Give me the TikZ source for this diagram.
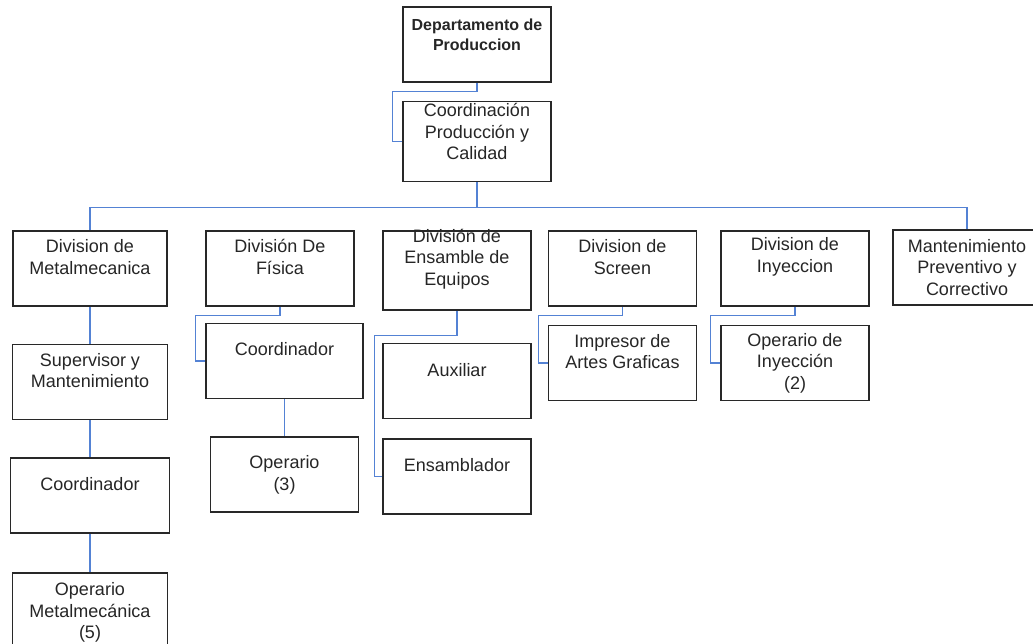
\documentclass[tikz,border=0pt]{standalone}
\usepackage{fontspec}
\setmainfont{Liberation Sans}
\usepackage{tikz}
\usetikzlibrary{positioning}

\definecolor{linkblue}{RGB}{84,130,212}
\definecolor{boxgray}{RGB}{40,40,40}

\begin{document}
\begin{tikzpicture}[x=1pt,y=-1pt]
        % Styles
        \tikzstyle{unit} = [rectangle,draw=boxgray,line width=1.6pt,fill=white,
        minimum width=148pt, minimum height=75pt, inner sep=0pt]
        \tikzstyle{txt} = [align=center, text=black!85, font=\fontsize{18}{21.5}\selectfont]
        \tikzstyle{lbl} = [txt, yshift=11.5pt]
        \tikzstyle{link} = [draw=linkblue, line width=1.3pt]

        \useasboundingbox (0,0) rectangle (1033,644);
        \clip (0,0) rectangle (1033,644);

        % Nodes
        \node (dept)     [unit, label={[txt,yshift=9.5pt,font=\fontsize{16}{20}\bfseries]center:{Departamento de\\Produccion}}] at (477,44.5) {};
        \node (coord)    [unit, minimum height=80pt, below=18pt of dept,
                          label={[lbl,yshift=-1.5pt]center:{Coordinación\\Producción y\\Calidad}}] {};

        \node (metal)    [unit, minimum width=154pt, label={[lbl]center:{Division de\\Metalmecanica}}] at (90,268.5) {};
        \node (fisica)   [unit, label={[lbl]center:{División De\\Física}}] at (280,268.5) {};
        \node (ensamble) [unit, minimum height=79pt, label={[lbl]center:{División de\\Ensamble de\\Equipos}}] at (457,270.5) {};
        \node (screen)   [unit, label={[lbl]center:{Division de\\Screen}}] at (622.5,268.5) {};
        \node (inyec)    [unit, label={[lbl]center:{Division de\\Inyeccion}}] at (795,268.5) {};
        \node (mant)     [unit, label={[txt]center:{Mantenimiento\\Preventivo y\\Correctivo}}] at (967,267.5) {};

        \node (superv)   [unit, minimum width=155pt, below=37pt of metal,
                          label={[lbl]center:{Supervisor y\\Mantenimiento}}] {};
        \node (mcoord)   [unit, minimum width=159pt, below=37pt of superv,
                          label={[lbl]center:Coordinador}] {};
        \node (opmetal)  [unit, minimum width=155pt, minimum height=80pt, below=38pt of mcoord,
                          label={[txt]center:{Operario\\Metalmecánica\\(5)}}] {};

        \node (fcoord)   [unit, minimum width=157pt, label={[lbl]center:Coordinador}] at (284.5,361) {};
        \node (oper3)    [unit, below=37pt of fcoord, label={[txt]center:{Operario\\(3)}}] {};

        \node (aux)      [unit, below=32pt of ensamble, label={[lbl]center:Auxiliar}] {};
        \node (ensambl)  [unit, below=19pt of aux, label={[lbl]center:Ensamblador}] {};

        \node (impresor) [unit, below=18pt of screen, label={[lbl]center:{Impresor de\\Artes Graficas}}] {};
        \node (opiny)    [unit, below=18pt of inyec, label={[txt]center:{Operario de\\Inyección\\(2)}}] {};

        % Edges
        \draw[link] (dept.south) -- ++(0,9) -| ([xshift=-10pt]coord.west) -- (coord.west);
        \draw[link] (coord.south) -- ++(0,25) -| (metal.north);
        \draw[link] (coord.south) -- ++(0,25) -| (mant.north);

        \draw[link] (metal.south) -- (superv.north);
        \draw[link] (superv.south) -- (mcoord.north);
        \draw[link] (mcoord.south) -- (opmetal.north);

        \draw[link] (fisica.south) -- ++(0,9) -| ([xshift=-10pt]fcoord.west) -- (fcoord.west);
        \draw[link] (fcoord.south) -- (oper3.north);

        \draw[link] (ensamble.south) -- ++(0,25) -| ([xshift=-8pt]ensambl.west) -- (ensambl.west);
        \draw[link] (screen.south) -- ++(0,9) -| ([xshift=-9pt]impresor.west) -- (impresor.west);
        \draw[link] (inyec.south) -- ++(0,9) -| ([xshift=-10pt]opiny.west) -- (opiny.west);

    \end{tikzpicture}
\end{document}
